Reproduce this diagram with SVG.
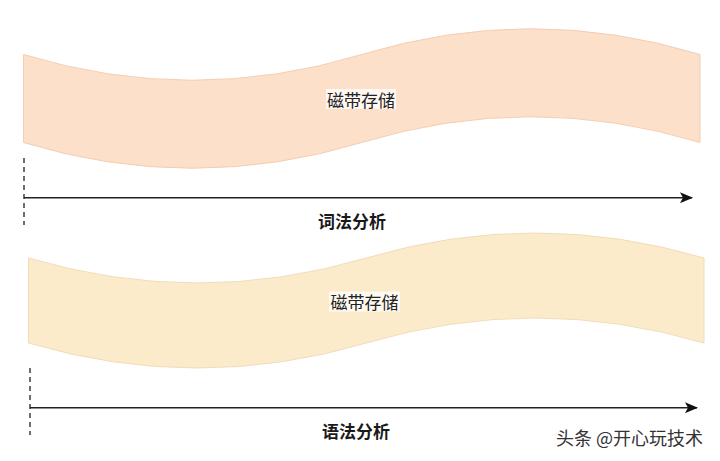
<svg xmlns="http://www.w3.org/2000/svg" width="720" height="461" viewBox="0 0 720 461">
<style>
.lbl{font-family:"Noto Sans CJK SC","Liberation Sans",sans-serif;font-size:17px;fill:#222;text-anchor:middle;dominant-baseline:central}
.bold{font-weight:bold;fill:#1a1a1a}
.dash{stroke:#222;stroke-width:1.3;stroke-dasharray:5,4;fill:none}
.axis{stroke:#222;stroke-width:1.6;fill:none}
.wm{font-family:"Noto Sans CJK SC","Liberation Sans",sans-serif;font-size:18px;fill:#333;dominant-baseline:central}
</style>
<defs>
<marker id="arr" viewBox="0 0 13 11" refX="12" refY="5.5" markerWidth="13" markerHeight="11" markerUnits="userSpaceOnUse" orient="auto">
<path d="M0,0 L13,5.5 L0,11 L3,5.5 Z" fill="#111"/>
</marker>
</defs>
<rect width="720" height="461" fill="#fff"/>
<g id="tape1">
<path d="M23.5,54.5 Q192.6,106 361.75,54.5 Q530.9,3 700,54.5 L700,142.5 Q530.9,91 361.75,142.5 Q192.6,194 23.5,142.5 Z" fill="#fde0ca" stroke="#f4cdb2" stroke-width="1"/>
<rect x="326" y="89" width="70" height="20" fill="#fff" opacity="0.75"/>
<text class="lbl" x="361" y="99">磁带存储</text>
</g>
<g id="tape2">
<path d="M28.5,258 Q197.4,308 366.25,258 Q535.1,208 704,258 L704,343 Q535.1,293 366.25,343 Q197.4,393 28.5,343 Z" fill="#fcebcb" stroke="#f1dcb8" stroke-width="1"/>
<rect x="329" y="291.5" width="71" height="20" fill="#fff" opacity="0.75"/>
<text class="lbl" x="364.5" y="301.5">磁带存储</text>
</g>
<g id="connectors">
<line class="dash" x1="24" y1="158" x2="24" y2="225"/>
<line class="axis" x1="24" y1="197.7" x2="692" y2="197.7" marker-end="url(#arr)"/>
<line class="dash" x1="30" y1="368" x2="30" y2="435"/>
<line class="axis" x1="30" y1="407.7" x2="697" y2="407.7" marker-end="url(#arr)"/>
</g>
<g id="label1"><text class="lbl bold" x="352" y="220">词法分析</text></g>
<g id="label2"><text class="lbl bold" x="356" y="430">语法分析</text></g>
<g id="watermark"><text class="wm" x="556" y="437">头条 @开心玩技术</text></g>
</svg>
